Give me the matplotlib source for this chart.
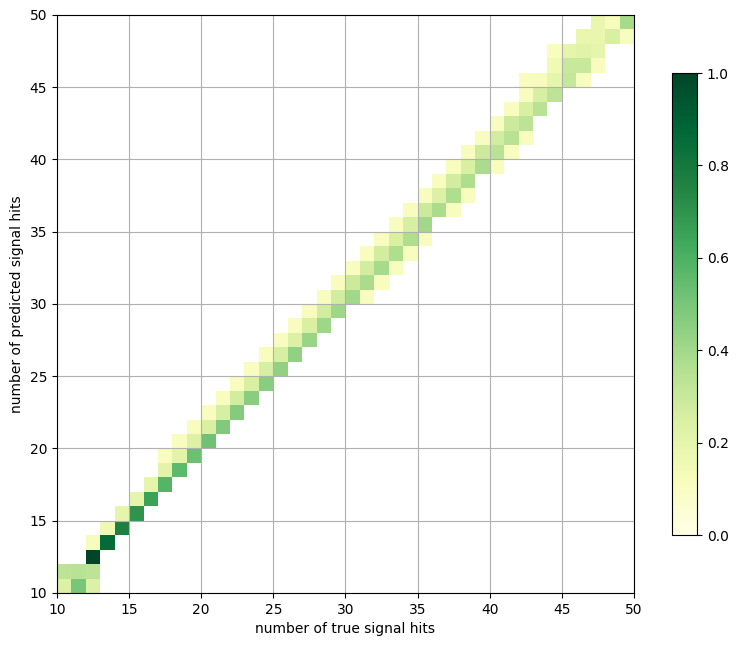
import numpy as np
import matplotlib
matplotlib.use("Agg")
import matplotlib.pyplot as plt

# predicted hits rows 10..49, first true-hit bin of each row and the bin values
pred_rows = list(range(10, 50))
row_start = [10, 10, 12, 12, 13, 14, 15, 16, 17, 17,
             18, 19, 20, 21, 22, 23, 24, 25, 26, 27,
             28, 29, 30, 31, 32, 33, 34, 35, 36, 37,
             38, 39, 40, 41, 42, 42, 44, 44, 46, 47]
row_vals = [
    [0.24, 0.50, 0.24],
    [0.33, 0.34, 0.33],
    [1.0],
    [0.12, 0.86],
    [0.16, 0.77],
    [0.20, 0.70],
    [0.20, 0.65],
    [0.20, 0.58],
    [0.21, 0.56],
    [0.11, 0.21, 0.53],
    [0.11, 0.23, 0.52],
    [0.11, 0.25, 0.48],
    [0.11, 0.26, 0.47],
    [0.11, 0.27, 0.46],
    [0.11, 0.25, 0.46],
    [0.11, 0.26, 0.44],
    [0.11, 0.26, 0.44],
    [0.11, 0.24, 0.42],
    [0.11, 0.25, 0.41],
    [0.11, 0.27, 0.41],
    [0.11, 0.27, 0.40, 0.11],
    [0.11, 0.29, 0.38, 0.11],
    [0.11, 0.27, 0.39, 0.11],
    [0.11, 0.27, 0.37, 0.11],
    [0.11, 0.25, 0.37, 0.11],
    [0.11, 0.26, 0.40],
    [0.11, 0.29, 0.38, 0.11],
    [0.11, 0.24, 0.37, 0.11],
    [0.11, 0.27, 0.37],
    [0.11, 0.25, 0.38, 0.11],
    [0.11, 0.29, 0.34, 0.11],
    [0.11, 0.27, 0.34, 0.11],
    [0.11, 0.29, 0.33],
    [0.11, 0.25, 0.34],
    [0.11, 0.26, 0.33],
    [0.11, 0.12, 0.20, 0.31, 0.11],
    [0.15, 0.30, 0.30, 0.11],
    [0.11, 0.20, 0.22, 0.20],
    [0.19, 0.19, 0.25, 0.11],
    [0.19, 0.12, 0.39],
]

edges = np.arange(10, 51)
mat = np.zeros((40, 40))
for r, s, vals in zip(pred_rows, row_start, row_vals):
    for k, v in enumerate(vals):
        mat[r - 10, s - 10 + k] = v
mat = np.ma.masked_equal(mat, 0)

fig = plt.figure(figsize=(7.36, 6.47), dpi=100)
ax = fig.add_axes([0.0774, 0.0835, 0.784, 0.8934])
cax = fig.add_axes([0.913, 0.1731, 0.034, 0.714])

mesh = ax.pcolormesh(edges, edges, mat, cmap="YlGn", vmin=0, vmax=1)
ax.set_xlim(10, 50)
ax.set_ylim(10, 50)
ax.grid(True)
ax.set_xlabel("number of true signal hits")
ax.set_ylabel("number of predicted signal hits")
fig.colorbar(mesh, cax=cax)

fig.savefig("out.png", dpi=100)
